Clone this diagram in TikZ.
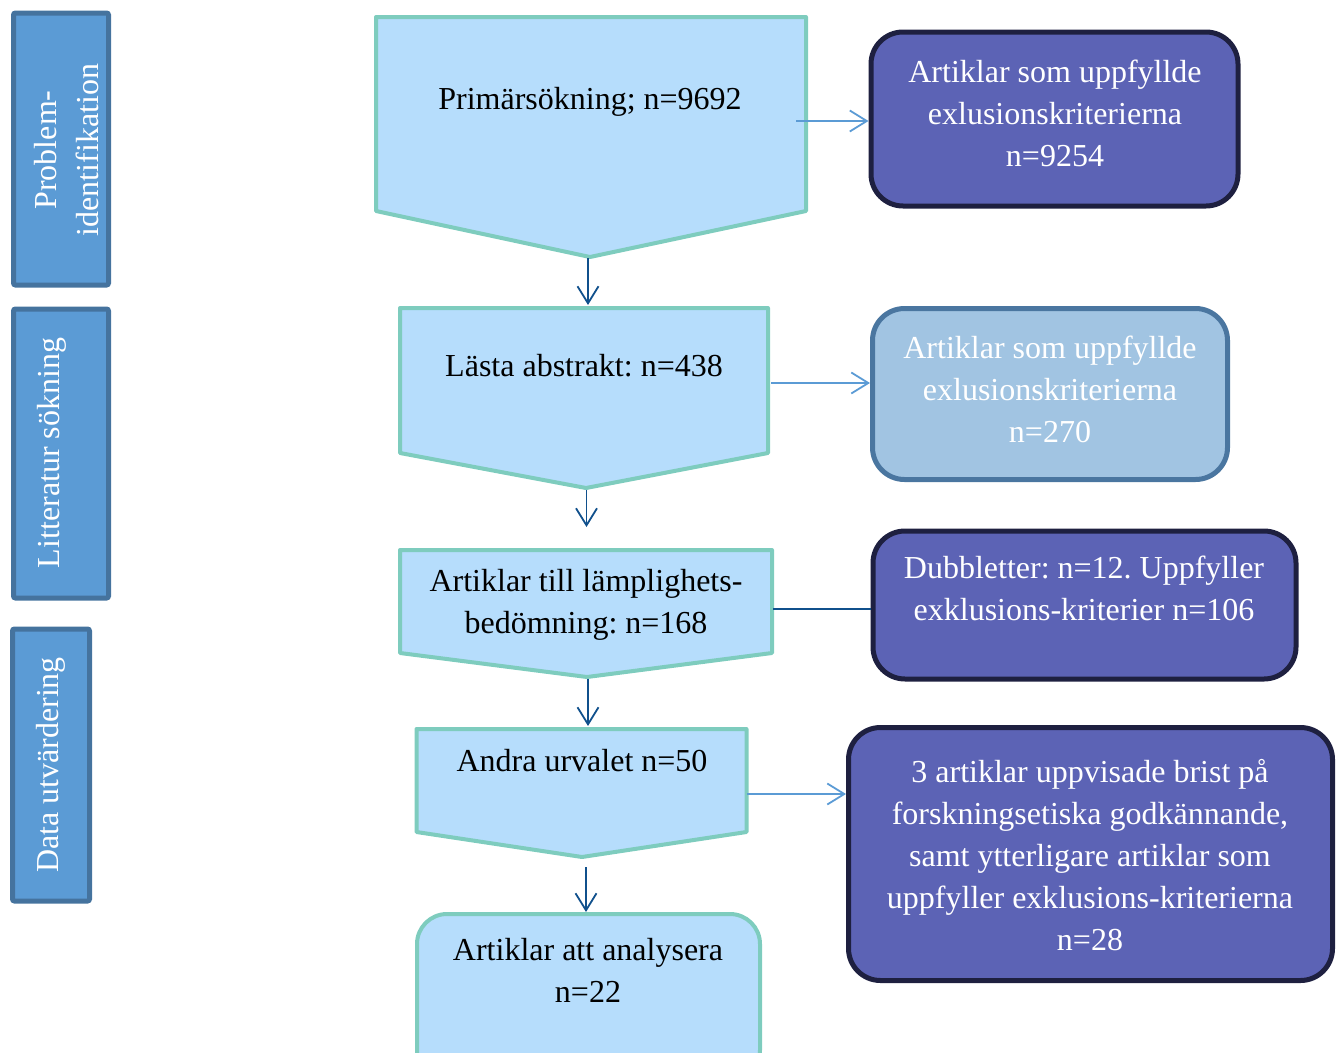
\documentclass[tikz,border=0pt]{standalone}
\usepackage{fontspec}
\setmainfont{Liberation Serif}
\usetikzlibrary{arrows.meta}
\frenchspacing

\definecolor{stepfill}{HTML}{B6DDFC}
\definecolor{stepline}{HTML}{7ECCBE}
\definecolor{sidefill}{HTML}{5B9BD5}
\definecolor{sideline}{HTML}{45739E}
\definecolor{exclfill}{HTML}{5C63B5}
\definecolor{exclline}{HTML}{1E2040}
\definecolor{readfill}{HTML}{A1C4E2}
\definecolor{readline}{HTML}{4A76A0}
\definecolor{darkarrow}{HTML}{10508C}
\definecolor{lightarrow}{HTML}{5B9BD5}

\tikzset{
    txt/.style={font=\fontsize{32}{42}\selectfont\frenchspacing, align=center, anchor=base, inner sep=0pt},
    sidebox/.style={draw=sideline, fill=sidefill, line width=5pt, rounded corners=2pt, inner sep=0pt},
    stepbox/.style={draw=stepline, fill=stepfill, line width=4pt, line join=round},
    exclbox/.style={draw=exclline, fill=exclfill, line width=5pt, rounded corners=32pt, inner sep=0pt},
    readbox/.style={draw=readline, fill=readfill, line width=5pt, rounded corners=32pt, inner sep=0pt},
    down/.style={draw=darkarrow, line width=1.8pt},
    across/.style={draw=lightarrow, line width=1.8pt}
}

\begin{document}
\begin{tikzpicture}[x=1pt, y=-1pt, >={Straight Barb[length=17pt,width=21pt]}]
        \clip (0, 0) rectangle (1341, 1052);

        % Phases on the left (base of a text = its last line)
        \node[sidebox, minimum width=95pt, minimum height=272pt] (phase1) at (61, 149) {};
        \node[sidebox, minimum width=95pt, minimum height=289pt] (phase2) at (61, 453.5) {};
        \node[sidebox, minimum width=77pt, minimum height=272pt] (phase3) at (51, 765) {};
        \node[txt, white, rotate=90] (phase1 text) at (98, 150) {Problem-\\identifikation};
        \node[txt, white, rotate=90] (phase2 text) at (59, 453) {Litteratur sökning};
        \node[txt, white, rotate=90] (phase3 text) at (58, 765) {Data utvärdering};

        % Search steps
        \draw[stepbox] (376, 17) -- (806, 17) -- (806, 211) -- (590, 257) -- (376, 211) -- cycle;
        \draw[stepbox] (400, 308) -- (768, 308) -- (768, 453) -- (586, 488) -- (400, 453) -- cycle;
        \draw[stepbox] (400, 550) -- (772, 550) -- (772, 653) -- (587, 677) -- (400, 653) -- cycle;
        \draw[stepbox] (416.5, 729) -- (746.5, 729) -- (746.5, 832) -- (582, 857) -- (416.5, 832) -- cycle;
        \node[stepbox, rounded corners=30pt, minimum width=343pt, minimum height=166pt] (analys) at (588.5, 997) {};

        \node[txt] (prim) at (590, 109) {Primärsökning; n=9692};
        \node[txt] (abs) at (584, 376) {Lästa abstrakt: n=438};
        \node[txt] (lamp) at (586, 633) {Artiklar till lämplighets-\\bedömning: n=168};
        \node[txt] (urval) at (582, 771) {Andra urvalet n=50};
        \node[txt] (analys text) at (588, 1002) {Artiklar att analysera\\n=22};

        % Excluded articles
        \node[exclbox, minimum width=367pt, minimum height=174pt] (excl1) at (1054.5, 119) {};
        \node[readbox, minimum width=355pt, minimum height=171pt] (excl2) at (1050, 394) {};
        \node[exclbox, minimum width=423pt, minimum height=148pt] (excl3) at (1084.5, 605) {};
        \node[exclbox, minimum width=484pt, minimum height=253pt] (excl4) at (1090.5, 854) {};

        \node[txt, white] (excl1 text) at (1055, 166) {Artiklar som uppfyllde\\exlusionskriterierna\\n=9254};
        \node[txt, white] (excl2 text) at (1050, 442) {Artiklar som uppfyllde\\exlusionskriterierna\\n=270};
        \node[txt, white] (excl3 text) at (1084, 620) {Dubbletter: n=12. Uppfyller\\exklusions-kriterier n=106};
        \node[txt, white] (excl4 text) at (1090, 950) {3 artiklar uppvisade brist på\\forskningsetiska godkännande,\\samt ytterligare artiklar som\\uppfyller exklusions-kriterierna\\n=28};

        % Ends of the connectors
        \coordinate (prim tip) at (588, 258);
        \coordinate (abs top) at (588, 305);
        \coordinate (abs tip) at (586.5, 490);
        \coordinate (lamp top) at (586.5, 527);
        \coordinate (lamp tip) at (588, 679);
        \coordinate (urval top) at (588, 726);
        \coordinate (urval tip) at (586, 867);
        \coordinate (prim out) at (796, 121);
        \coordinate (abs out) at (771, 383);
        \coordinate (lamp out) at (773, 609);
        \coordinate (urval out) at (747, 794);

        % Down the flow
        \foreach \a/\b in {prim tip/abs top, abs tip/lamp top, lamp tip/urval top}
        \draw[down, ->] (\a) -- (\b);
        \draw[down, ->] (urval tip) -- (analys.north -| urval tip);

        % Out to the excluded articles
        \draw[across, ->] (prim out) -- (excl1.west |- prim out);
        \draw[across, ->] (abs out) -- (excl2.west |- abs out);
        \draw[down] (lamp out) -- (excl3.west |- lamp out);
        \draw[across, ->] (urval out) -- (excl4.west |- urval out);
    \end{tikzpicture}
\end{document}
